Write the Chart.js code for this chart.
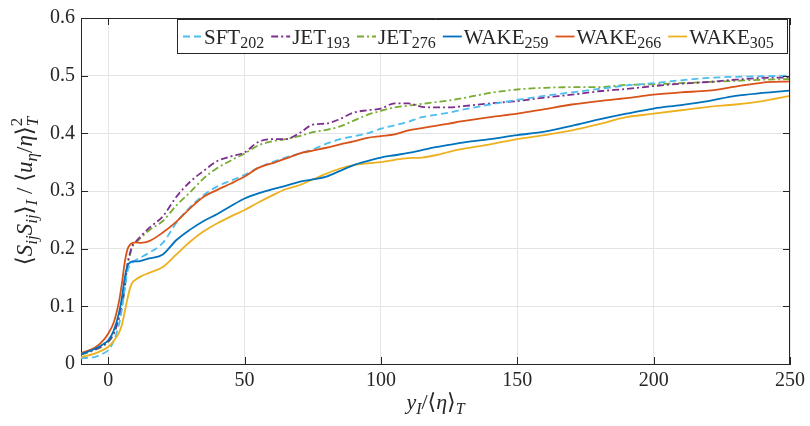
<!DOCTYPE html>
<html><head><meta charset="utf-8">
<script src="https://cdn.jsdelivr.net/npm/chart.js@4.4.1/dist/chart.umd.min.js"></script>
<style>html,body{margin:0;padding:0;background:#fff}#wrap{width:810px;height:426px;position:relative}</style>
</head><body><div id="wrap"><canvas id="c" width="810" height="426"></canvas></div>
<script>
const xValues = [-10,-5,-2,0,2,4,5,6,7,8,9,10,12,15,20,25,30,35,40,45,50,55,60,65,70,75,80,85,90,95,100,105,110,115,120,125,130,140,150,160,170,180,190,200,210,220,230,240,250];

const sft202  = [0.010,0.012,0.018,0.024,0.040,0.070,0.095,0.130,0.160,0.172,0.176,0.180,0.185,0.193,0.210,0.245,0.272,0.293,0.308,0.318,0.328,0.340,0.350,0.358,0.365,0.372,0.382,0.390,0.395,0.400,0.408,0.414,0.420,0.428,0.432,0.436,0.441,0.450,0.458,0.465,0.471,0.477,0.483,0.487,0.492,0.496,0.498,0.499,0.500];
const jet193  = [0.017,0.025,0.032,0.039,0.053,0.082,0.102,0.133,0.172,0.193,0.207,0.212,0.222,0.236,0.256,0.290,0.316,0.335,0.352,0.360,0.367,0.385,0.390,0.390,0.400,0.415,0.417,0.425,0.436,0.440,0.443,0.452,0.452,0.446,0.445,0.445,0.447,0.452,0.456,0.462,0.467,0.473,0.477,0.482,0.486,0.489,0.493,0.496,0.497];
const jet276  = [0.016,0.024,0.031,0.038,0.052,0.080,0.100,0.130,0.170,0.190,0.205,0.210,0.219,0.232,0.248,0.275,0.298,0.322,0.340,0.353,0.365,0.379,0.386,0.390,0.395,0.402,0.406,0.412,0.422,0.432,0.439,0.445,0.448,0.451,0.454,0.457,0.461,0.470,0.476,0.479,0.480,0.480,0.484,0.485,0.487,0.489,0.491,0.493,0.494];
const wake259 = [0.017,0.026,0.034,0.041,0.058,0.090,0.115,0.148,0.170,0.176,0.178,0.178,0.179,0.183,0.190,0.215,0.233,0.248,0.260,0.274,0.287,0.296,0.303,0.309,0.316,0.320,0.325,0.335,0.345,0.352,0.358,0.362,0.366,0.371,0.376,0.380,0.384,0.390,0.397,0.403,0.413,0.424,0.434,0.443,0.449,0.456,0.465,0.470,0.474];
const wake266 = [0.019,0.028,0.040,0.053,0.072,0.110,0.140,0.175,0.198,0.207,0.210,0.211,0.210,0.213,0.228,0.247,0.270,0.290,0.302,0.313,0.325,0.340,0.348,0.356,0.365,0.370,0.375,0.381,0.386,0.392,0.395,0.398,0.405,0.409,0.413,0.417,0.421,0.428,0.434,0.442,0.450,0.456,0.461,0.467,0.471,0.474,0.481,0.488,0.490];
const wake305 = [0.012,0.018,0.024,0.030,0.040,0.055,0.068,0.090,0.112,0.132,0.142,0.146,0.152,0.158,0.168,0.190,0.212,0.230,0.244,0.256,0.267,0.280,0.292,0.303,0.310,0.320,0.330,0.339,0.345,0.348,0.350,0.354,0.357,0.358,0.362,0.368,0.373,0.381,0.390,0.397,0.405,0.416,0.428,0.434,0.440,0.446,0.450,0.456,0.465];

const seriesNames = ['SFT','JET','JET','WAKE','WAKE','WAKE'];
const seriesSubs  = ['202','193','276','259','266','305'];
const xTicks = [0,50,100,150,200,250];
const yTicks = [0,0.1,0.2,0.3,0.4,0.5,0.6];

const SERIF = '"Liberation Serif","DejaVu Serif",serif';
const colors = ['#4DBEEE','#7E2F8E','#77AC30','#0072BD','#D95319','#EDB120'];
const dashes = [[7,4],[7,3,2,3],[7,3,2,3],[],[],[]];
const allY = [sft202,jet193,jet276,wake259,wake266,wake305];

const datasets = allY.map((ys,i)=>({
  label: seriesNames[i] + seriesSubs[i],
  data: xValues.map((x,j)=>({x:x,y:ys[j]})),
  borderColor: colors[i],
  borderWidth: 1.8,
  borderDash: dashes[i],
  pointRadius: 0,
  fill: false,
  cubicInterpolationMode: 'monotone'
}));
const order = [3,4,5,0,1,2];

function drawSegs(ctx, segs, x, y, base, measureOnly){
  let cx = x;
  for (const s of segs){
    if (s.stack){
      let w = 0;
      for (const p of s.stack){
        ctx.font = (p.it?'italic ':'') + p.sz + 'px ' + SERIF;
        if(!measureOnly) ctx.fillText(p.t, cx, y + p.dy);
        w = Math.max(w, ctx.measureText(p.t).width);
      }
      cx += w;
    } else {
      ctx.font = (s.it?'italic ':'') + (s.sz||base) + 'px ' + SERIF;
      if(!measureOnly) ctx.fillText(s.t, cx, y + (s.dy||0));
      cx += ctx.measureText(s.t).width;
    }
  }
  return cx - x;
}

const overlay = {
  id: 'overlay',
  afterDraw(chart){
    const ctx = chart.ctx, a = chart.chartArea;
    const xs = chart.scales.x, ys = chart.scales.y;
    ctx.save();
    ctx.strokeStyle = '#262626'; ctx.lineWidth = 1;
    ctx.beginPath();
    ctx.moveTo(a.left+0.5, a.top+0.5); ctx.lineTo(a.right-0.5, a.top+0.5); ctx.lineTo(a.right-0.5, a.bottom);
    ctx.stroke();
    const tl = 7;
    ctx.beginPath();
    for (const v of xTicks){
      const px = Math.round(xs.getPixelForValue(v))+0.5;
      ctx.moveTo(px, a.bottom); ctx.lineTo(px, a.bottom - tl);
      ctx.moveTo(px, a.top); ctx.lineTo(px, a.top + tl);
    }
    for (const v of yTicks){
      const py = Math.round(ys.getPixelForValue(v))+0.5;
      ctx.moveTo(a.left, py); ctx.lineTo(a.left + tl, py);
      ctx.moveTo(a.right, py); ctx.lineTo(a.right - tl, py);
    }
    ctx.stroke();

    // legend
    const lx0 = 177, ly0 = 19.5, lx1 = 788, ly1 = 53.5;
    ctx.fillStyle = '#fff';
    ctx.fillRect(lx0, ly0, lx1-lx0, ly1-ly0);
    ctx.strokeStyle = '#262626';
    ctx.strokeRect(lx0+0.5, ly0, lx1-lx0-1, ly1-ly0);
    let x = 183;
    const lineY = 36.5, baseY = 44;
    ctx.textBaseline = 'alphabetic'; ctx.textAlign = 'left';
    for (let i=0;i<6;i++){
      ctx.strokeStyle = colors[i]; ctx.lineWidth = 1.8;
      ctx.setLineDash(dashes[i]);
      ctx.beginPath(); ctx.moveTo(x, lineY); ctx.lineTo(x+19, lineY); ctx.stroke();
      ctx.setLineDash([]);
      ctx.fillStyle = '#262626';
      const w = drawSegs(ctx, [{t:seriesNames[i]},{t:seriesSubs[i], sz:16, dy:4}], x+21, baseY, 21);
      x = x + 21 + w + 7;
    }

    // x title
    ctx.fillStyle = '#262626';
    const xt = [{t:'y',it:true},{t:'I',it:true,sz:16,dy:5},{t:'/'},{t:'\u27E8'},{t:'\u03B7',it:true},{t:'\u27E9'},{t:'T',it:true,sz:16,dy:5}];
    const xw = drawSegs(ctx, xt, 0, 0, 22, true);
    drawSegs(ctx, xt, (a.left+a.right)/2 - xw/2, 409, 22);

    // y title
    const yt = [{t:'\u27E8'},{t:'S',it:true},{t:'ij',it:true,sz:17,dy:5},{t:'S',it:true},{t:'ij',it:true,sz:17,dy:5},{t:'\u27E9'},{t:'I',it:true,sz:17,dy:5},{t:' / '},{t:'\u27E8'},{t:'u',it:true},{t:'\u03B7',it:true,sz:17,dy:5},{t:'/'},{t:'\u03B7',it:true},{t:'\u27E9'},{stack:[{t:'2',sz:17,dy:-10},{t:'T',it:true,sz:17,dy:6}]}];
    const yw = drawSegs(ctx, yt, 0, 0, 23, true);
    ctx.translate(32, (a.top+a.bottom)/2 + yw/2);
    ctx.rotate(-Math.PI/2);
    drawSegs(ctx, yt, 0, 0, 23);
    ctx.restore();
  }
};

new Chart(document.getElementById('c'), {
  type: 'line',
  data: { datasets: order.map(i=>datasets[i]) },
  options: {
    responsive: false, animation: false, devicePixelRatio: 1,
    layout: { padding: { top: 14, right: 17, left: 0, bottom: 0 } },
    plugins: { legend: { display: false }, tooltip: { enabled: false } },
    scales: {
      x: {
        type: 'linear', min: -10, max: 250,
        afterBuildTicks: s => { s.ticks = xTicks.map(v=>({value:v})); },
        afterFit: s => { s.height = 62; },
        ticks: { font: { family: SERIF, size: 20 }, color: '#262626', padding: 5, maxRotation: 0 },
        grid: { color: '#e4e4e4', drawTicks: false, lineWidth: 1 },
        border: { display: true, color: '#262626', width: 1 }
      },
      y: {
        min: 0, max: 0.6,
        afterBuildTicks: s => { s.ticks = yTicks.map(v=>({value:v})); },
        afterFit: s => { s.width = 81; },
        ticks: { font: { family: SERIF, size: 20 }, color: '#262626', padding: 6,
                 callback: v => v === 0 ? '0' : v.toFixed(1) },
        grid: { color: '#e4e4e4', drawTicks: false, lineWidth: 1 },
        border: { display: true, color: '#262626', width: 1 }
      }
    }
  },
  plugins: [overlay]
});
</script></body></html>
